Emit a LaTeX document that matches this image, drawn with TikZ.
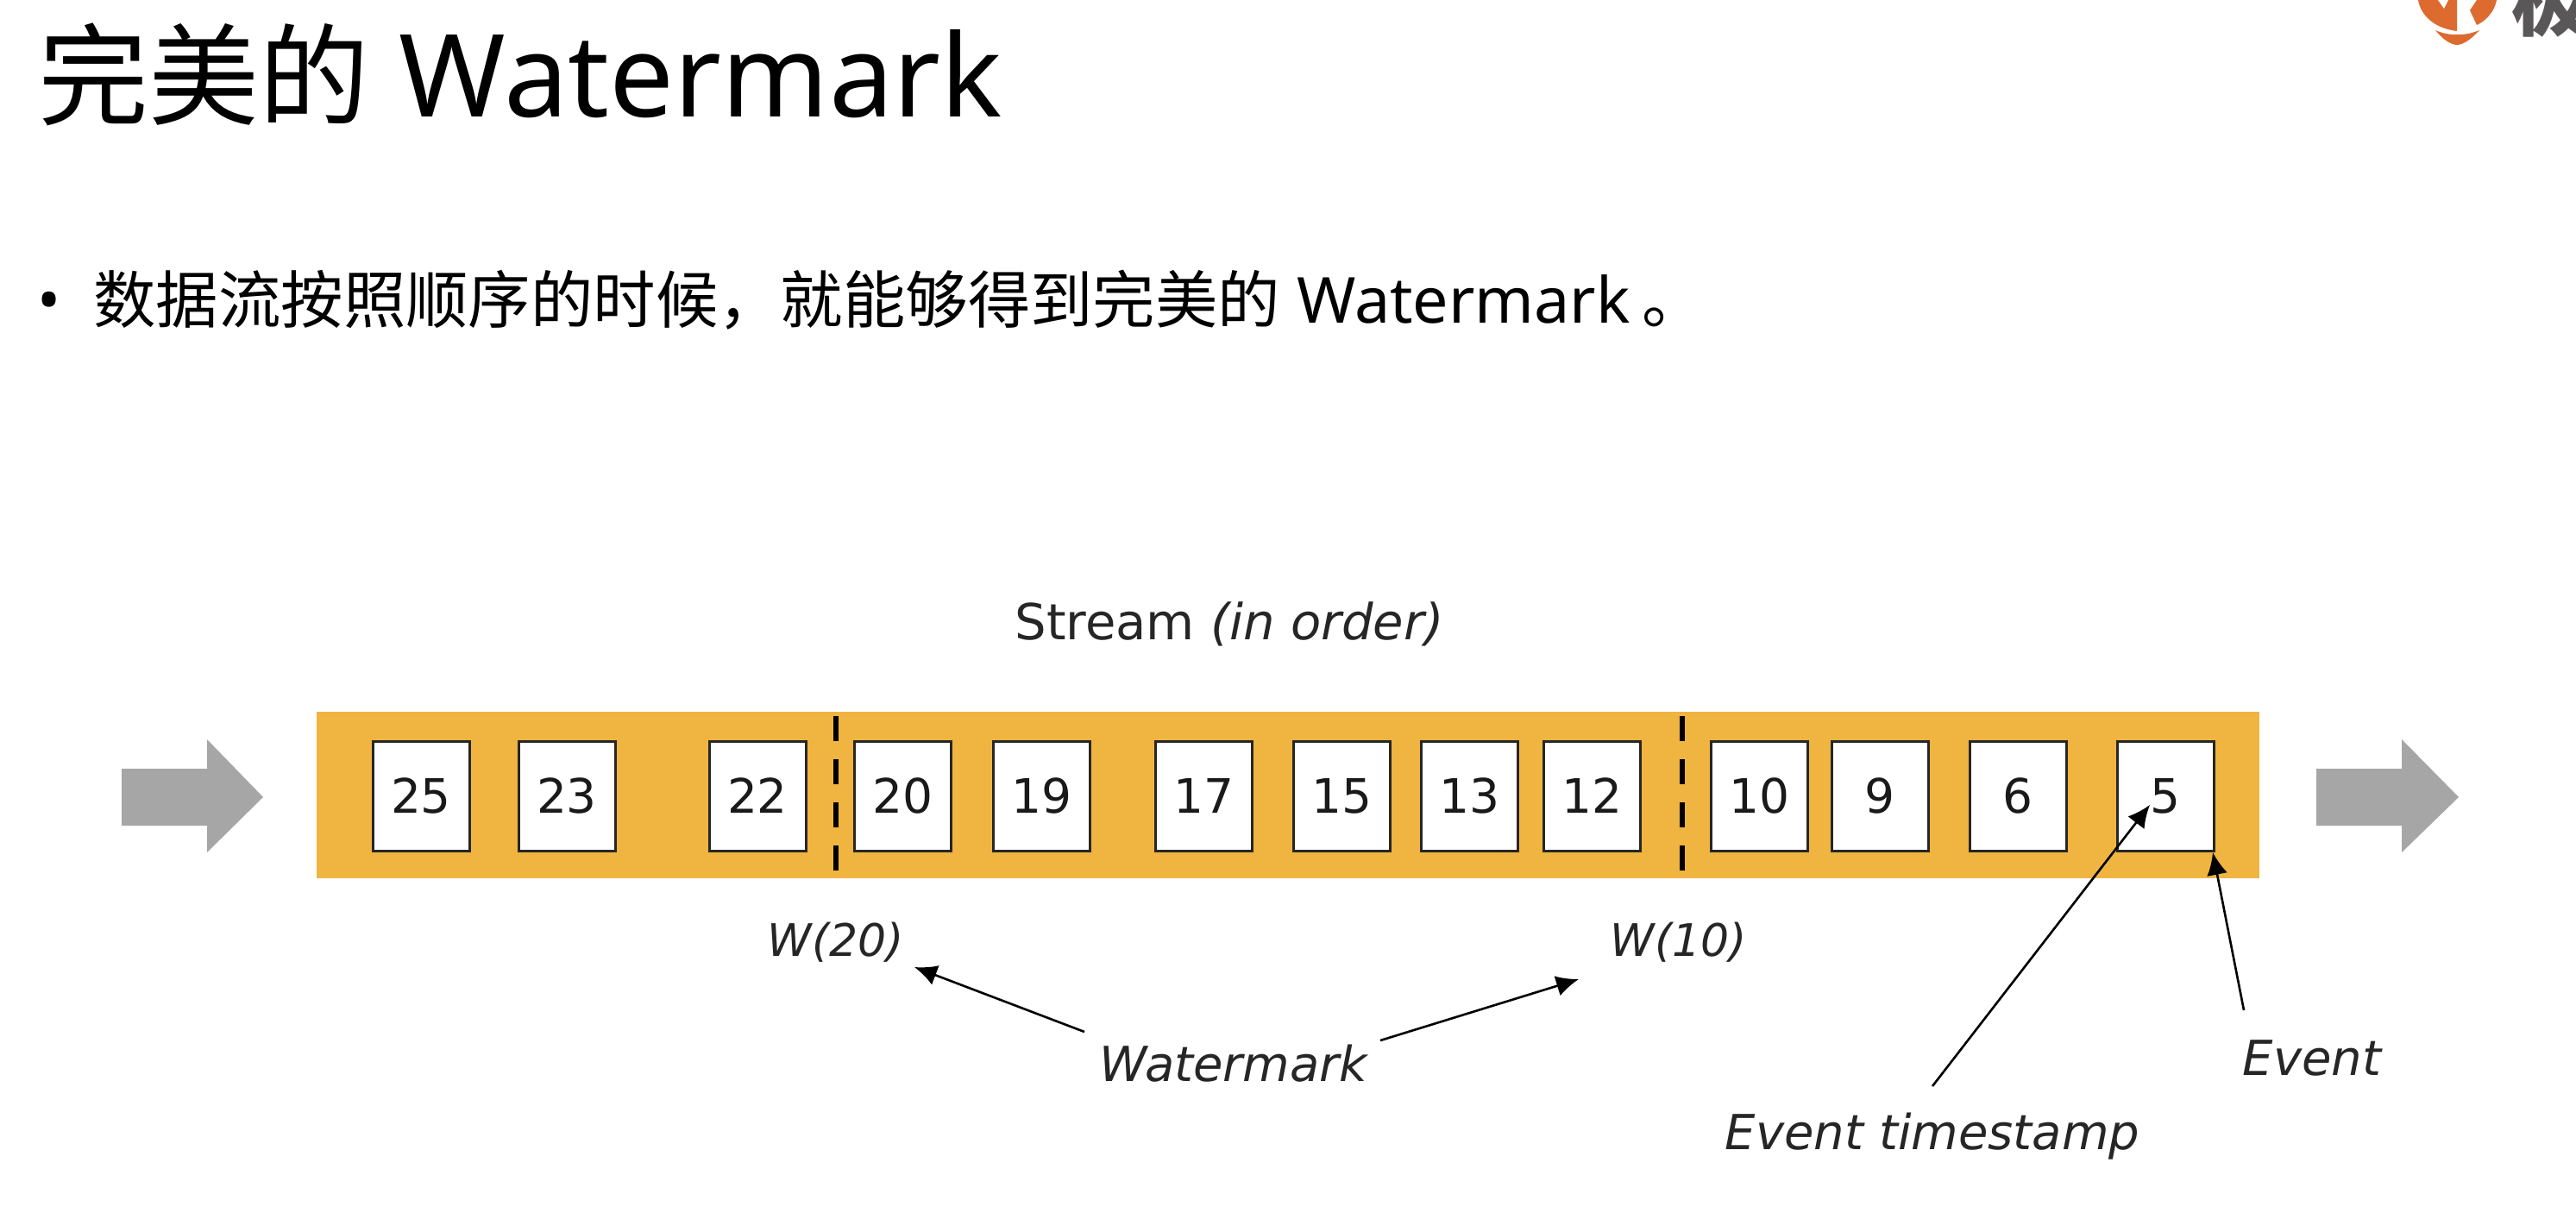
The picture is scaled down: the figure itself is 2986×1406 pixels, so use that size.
\documentclass[tikz,border=0pt]{standalone}
\usepackage{fontspec}
\setmainfont{Noto Sans}
\newfontfamily\cjk{Noto Sans CJK SC}
\newfontfamily\dv{DejaVu Sans}
\usetikzlibrary{arrows.meta}
\definecolor{barcol}{HTML}{F0B440}
\definecolor{arrcol}{HTML}{A6A6A6}
\definecolor{logoor}{HTML}{DD6B2F}
\definecolor{logogr}{HTML}{595757}
\tikzset{
  evbox/.style={draw=black!85,line width=1.5pt,fill=white,minimum width=56pt,minimum height=63.5pt,inner sep=0pt,font=\dv\fontsize{27.5}{27.5}\selectfont,text=black!90},
  lbl/.style={inner sep=0pt,font=\dv\itshape\fontsize{28}{28}\selectfont,text=black!85},
  wlbl/.style={inner sep=0pt,font=\dv\itshape\fontsize{26}{26}\selectfont,text=black!85},
  ptr/.style={line width=1.3pt,draw=black,-{Latex[length=13pt,width=12pt]}},
  wmline/.style={line width=3pt,draw=black,dash pattern=on 14.5pt off 10.5pt},
  flow/.style={fill=arrcol,draw=none}
}
\begin{document}
\begin{tikzpicture}[x=0.5pt,y=-0.5pt]
\useasboundingbox[fill=white] (0,0) rectangle (2986,1406);
% logo
\begin{scope}
\clip (2700,0) rectangle (2986,100);
\fill[logoor] (2803,0) .. controls (2806,18) and (2822,33) .. (2848,36) -- (2848,0) -- cycle;
\fill[logoor] (2856,0) -- (2894,0) .. controls (2892,11) and (2884,23) .. (2871,29) -- (2863,12) -- (2871,0) -- cycle;
\fill[white] (2826,0) -- (2833,10) -- (2838,0) -- cycle;
\fill[logoor] (2823,35) .. controls (2838,42) and (2858,42) .. (2874,35) .. controls (2866,44) and (2856,52) .. (2848,52) .. controls (2840,52) and (2830,44) .. (2823,35) -- cycle;
\node[anchor=south west,inner sep=0pt,text=logogr,font=\cjk\bfseries\fontsize{46}{46}\selectfont] (logotext) at (2911,44) {极};
\end{scope}
% title
\node[anchor=west,inner sep=0pt,font=\fontsize{66.5}{66.5}\selectfont] (title) at (44,86) {{\cjk\fontsize{64}{64}\selectfont 完美的} Watermark};
\node[anchor=center,inner sep=0pt,font=\fontsize{36}{36}\selectfont] (bullet) at (57,356) {•};
\node[anchor=west,inner sep=0pt,font=\fontsize{36.8}{36.8}\selectfont] (body) at (108,348) {{\cjk\fontsize{36.2}{36.2}\selectfont 数据流按照顺序的时候，就能够得到完美的} Watermark\hspace{7pt}{\cjk\fontsize{36.2}{36.2}\selectfont 。}};
% bar
\node[fill=barcol,draw=none,minimum width=1126pt,minimum height=96.5pt,inner sep=0pt,anchor=north west] (bar) at (367,824.5) {};
% flow arrows
\fill[flow] (141,891) -- (240,891) -- (240,857) -- (305,924) -- (240,988) -- (240,957) -- (141,957) -- cycle;
\fill[flow] (2685,891) -- (2784,891) -- (2784,857) -- (2850,924) -- (2784,988) -- (2784,957) -- (2685,957) -- cycle;
% boxes
\foreach \n/\x in {25/488,23/657,22/878,20/1046,19/1207,17/1395,15/1555,13/1703,12/1845,10/2039,9/2179,6/2339,5/2510}{
  \node[evbox] (b\n) at (\x,922.5) {\raisebox{-1.5pt}{\n}};
}
% watermark lines
\coordinate (wa1) at (969,830); \coordinate (wa2) at (969,1013);
\coordinate (wb1) at (1950,830); \coordinate (wb2) at (1950,1013);
\draw[wmline] (wa1) -- (wa2);
\draw[wmline] (wb1) -- (wb2);
% labels
\node[anchor=center,inner sep=0pt,font=\dv\fontsize{28.8}{28.8}\selectfont,text=black!85] (stream) at (1425,723) {Stream {\itshape (in order)}};
\node[wlbl] (w20) at (969,1092) {W(20)};
\node[wlbl] (w10) at (1946,1092) {W(10)};
\node[lbl] (wm) at (1430,1233) {Watermark};
\node[lbl] (ev) at (2680,1226) {Event};
\node[lbl] (ts) at (2240,1317) {Event timestamp};
% pointers
\coordinate (t20) at (1060,1121); \coordinate (s20) at (1257,1196);
\coordinate (t10) at (1830,1135); \coordinate (s10) at (1600,1206);
\coordinate (tts) at (2492,933); \coordinate (sts) at (2240,1259);
\coordinate (tev) at (2565,988); \coordinate (sev) at (2601,1171);
\draw[ptr] (s20) -- (t20);
\draw[ptr] (s10) -- (t10);
\draw[ptr] (sts) -- (tts);
\draw[ptr] (sev) -- (tev);
\end{tikzpicture}
\end{document}
